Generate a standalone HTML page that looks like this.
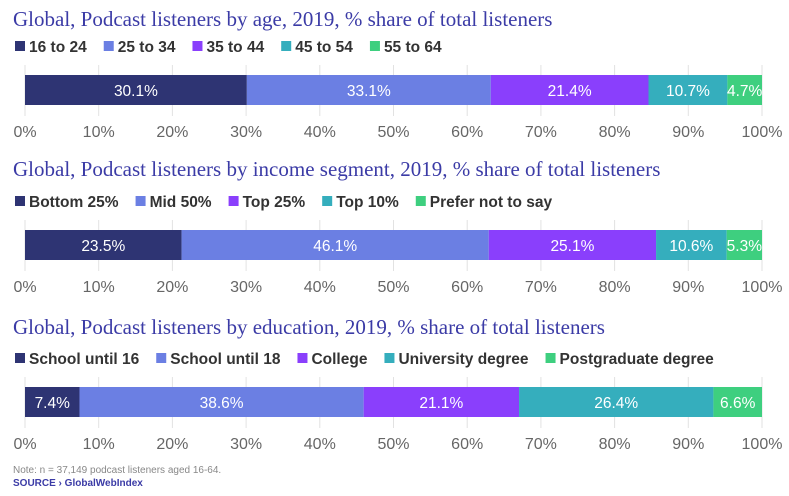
<!DOCTYPE html>
<html><head><meta charset="utf-8"><style>
body{margin:0;background:#fff;width:789px;height:496px;overflow:hidden;font-family:"Liberation Sans",sans-serif}
svg{display:block}
</style></head><body>
<svg id="c" width="789" height="496"></svg>
<script>
const panelTitles=["Global, Podcast listeners by age, 2019, % share of total listeners","Global, Podcast listeners by income segment, 2019, % share of total listeners","Global, Podcast listeners by education, 2019, % share of total listeners"];
const ageCats=["16 to 24","25 to 34","35 to 44","45 to 54","55 to 64"];
const ageVals=[30.1,33.1,21.4,10.7,4.7];
const incomeCats=["Bottom 25%","Mid 50%","Top 25%","Top 10%","Prefer not to say"];
const incomeVals=[23.5,46.1,25.1,10.6,5.3];
const eduCats=["School until 16","School until 18","College","University degree","Postgraduate degree"];
const eduVals=[7.4,38.6,21.1,26.4,6.6];
const ticks=[0,10,20,30,40,50,60,70,80,90,100];
const colors=["#2e3473","#6b7fe3","#8a3ffc","#35aebd","#3ecf7f"];
const svg=document.getElementById('c');
const NS="http://www.w3.org/2000/svg";
function mk(t,a,p){const e=document.createElementNS(NS,t);for(const k in a)e.setAttribute(k,a[k]);(p||svg).appendChild(e);return e;}
const x0=25,x1=762;
function xs(v){return x0+(x1-x0)*v/100;}
const panels=[{cats:ageCats,vals:ageVals,ty:26,ly:52,by:75},{cats:incomeCats,vals:incomeVals,ty:176,ly:207,by:230},{cats:eduCats,vals:eduVals,ty:334,ly:364,by:387}];
panels.forEach((p,pi)=>{
  const g=mk('g',{});
  
  
  const t=mk('text',{x:13,y:p.ty,'font-family':'Liberation Serif, serif','font-size':21,fill:'#3b3ba6'},g);
  t.textContent=panelTitles[pi];
  
  
  let lx=15;
  p.cats.forEach((c,i)=>{
    const le=mk('g',{},g);
    
    
    mk('rect',{x:lx,y:p.ly-11,width:10,height:10,fill:colors[i]},le);
    const tx=mk('text',{x:lx+14,y:p.ly,'font-size':15.5,'font-weight':'bold',fill:'#333'},le);
    tx.textContent=c;
    lx+=14+tx.getComputedTextLength()+17;
  });
  ticks.forEach(tk=>{
    const l=mk('line',{x1:xs(tk),x2:xs(tk),y1:p.by-10,y2:p.by+41,stroke:'#e2e2e2','stroke-width':1},g);
    
    
    const tl=mk('text',{x:xs(tk),y:p.by+62,'text-anchor':'middle','font-size':16,fill:'#666'},g);
    tl.textContent=tk+'%';
    
    
  });
  const total=p.vals.reduce((a,b)=>a+b,0);
  let acc=0;
  p.vals.forEach((v,i)=>{
    const a=acc/total*100,b=(acc+v)/total*100;
    const r=mk('rect',{x:xs(a),y:p.by,width:xs(b)-xs(a),height:30,fill:colors[i]},g);
    
    
    const tv=mk('text',{x:(xs(a)+xs(b))/2,y:p.by+21,'text-anchor':'middle','font-size':15.5,fill:'#fff'},g);
    tv.textContent=v.toFixed(1)+'%';
    
    
    acc+=v;
  });
});
const n=mk('text',{x:13,y:473,'font-size':10,fill:'#888'});
n.textContent="Note: n = 37,149 podcast listeners aged 16-64.";


const s=mk('text',{x:13,y:486,'font-size':10,'font-weight':'bold',fill:'#3b3ba6'});
s.textContent="SOURCE › GlobalWebIndex";


</script>
</body></html>
